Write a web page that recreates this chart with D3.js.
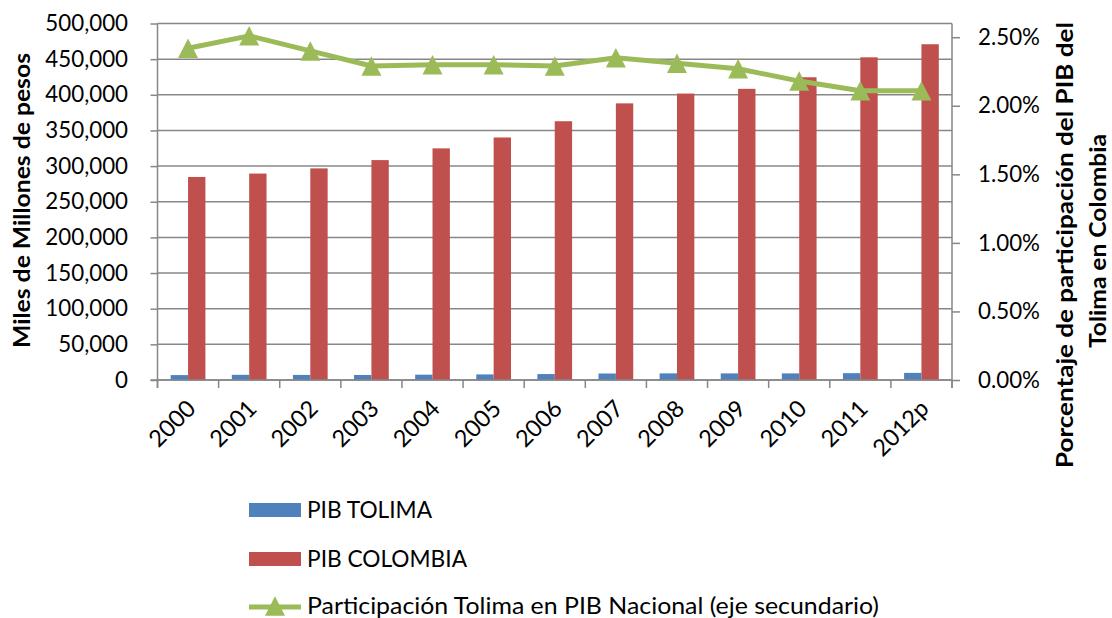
<!DOCTYPE html>
<html>
<head>
<meta charset="utf-8">
<script src="https://cdn.jsdelivr.net/npm/d3@7"></script>
<style>
  html, body { margin: 0; padding: 0; background: #fff; }
  svg { display: block; }
  text { font-family: Lato, "Open Sans", sans-serif; fill: #000; }
</style>
</head>
<body>
<div id="chart"></div>
<script>
// ---- Data ----
const categories = ["2000","2001","2002","2003","2004","2005","2006","2007","2008","2009","2010","2011","2012p"];
const pibTolima = [6890, 7280, 7140, 7050, 7470, 7820, 8310, 9130, 9300, 9260, 9270, 9570, 9960];
const pibColombia = [284761, 289539, 296789, 308418, 324866, 340156, 362938, 387983, 401744, 408379, 424599, 452578, 470903];
const participacion = [0.0242, 0.0251, 0.0240, 0.0229, 0.0230, 0.0230, 0.0229, 0.0235, 0.0231, 0.0227, 0.0218, 0.0211, 0.0211];
const leftTicks = [0, 50000, 100000, 150000, 200000, 250000, 300000, 350000, 400000, 450000, 500000];
const rightTicks = [0, 0.005, 0.01, 0.015, 0.02, 0.025];
const seriesNames = ["PIB TOLIMA", "PIB COLOMBIA", "Participación Tolima en PIB Nacional (eje secundario)"];
const leftTitle = "Miles de Millones de pesos";
const rightTitle = ["Porcentaje de participación del PIB del", "Tolima en Colombia"];

// ---- Layout ----
const W = 1112, H = 618;
const L = 157.5, R = 952, T = 23.5, B = 380;
const colors = { tolima: "#4F81BD", colombia: "#C0504D", line: "#9BBB59", grid: "#878787" };
const fs = 22.3;

const svg = d3.select("#chart").append("svg").attr("width", W).attr("height", H);
svg.append("rect").attr("width", W).attr("height", H).attr("fill", "#fff");

const x0 = d3.scaleBand().domain(categories).range([L, R]).paddingInner(0).paddingOuter(0);
const xg = d3.scaleBand().domain(categories).range([L, R]).paddingInner(0.432).paddingOuter(0.216);
const xs = d3.scaleBand().domain(["tolima", "colombia"]).range([0, xg.bandwidth()]).padding(0);
const yL = d3.scaleLinear().domain([0, 500000]).range([B, T]);
const yR = d3.scaleLinear().domain([0, 0.026]).range([B, T]);

// gridlines
svg.append("g").selectAll("line").data(leftTicks).join("line")
  .attr("x1", L).attr("x2", R).attr("y1", d => yL(d)).attr("y2", d => yL(d))
  .attr("stroke", colors.grid).attr("stroke-width", 1.5);

// bars
const rows = categories.map((c, i) => ({ c, tolima: pibTolima[i], colombia: pibColombia[i] }));
const grp = svg.append("g").selectAll("g").data(rows).join("g")
  .attr("transform", d => `translate(${xg(d.c)},0)`);
grp.selectAll("rect").data(d => [["tolima", d.tolima], ["colombia", d.colombia]]).join("rect")
  .attr("x", d => xs(d[0])).attr("width", xs.bandwidth())
  .attr("y", d => yL(d[1])).attr("height", d => B - yL(d[1]))
  .attr("fill", d => colors[d[0]]);

// plot border and axis lines
svg.append("line").attr("x1", L).attr("x2", L).attr("y1", T).attr("y2", B + 8).attr("stroke", colors.grid).attr("stroke-width", 1.5);
svg.append("line").attr("x1", R).attr("x2", R).attr("y1", T).attr("y2", B + 8).attr("stroke", colors.grid).attr("stroke-width", 1.5);

// left axis
const axL = svg.append("g").attr("transform", `translate(${L},0)`)
  .call(d3.axisLeft(yL).tickValues(leftTicks).tickSize(7).tickPadding(22.5).tickFormat(d3.format(",")));
axL.select(".domain").remove();
axL.selectAll("line").attr("stroke", colors.grid).attr("stroke-width", 1.5);
axL.selectAll("text").style("font-size", fs + "px").style("font-family", "Lato").attr("fill", "#000");

// right axis
const axR = svg.append("g").attr("transform", `translate(${R},0)`)
  .call(d3.axisRight(yR).tickValues(rightTicks).tickSize(8).tickPadding(18).tickFormat(d3.format(".2%")));
axR.select(".domain").remove();
axR.selectAll("line").attr("stroke", colors.grid).attr("stroke-width", 1.5);
axR.selectAll("text").style("font-size", fs + "px").style("font-family", "Lato").attr("fill", "#000");

// bottom axis: boundary ticks
const bounds = categories.map(c => x0(c)).concat([R]);
svg.append("g").selectAll("line").data(bounds).join("line")
  .attr("x1", d => d).attr("x2", d => d).attr("y1", B).attr("y2", B + 8)
  .attr("stroke", colors.grid).attr("stroke-width", 1.5);
svg.append("line").attr("x1", L - 7).attr("x2", R).attr("y1", B).attr("y2", B).attr("stroke", colors.grid).attr("stroke-width", 1.5);

const axB = svg.append("g").attr("transform", `translate(0,${B})`)
  .call(d3.axisBottom(x0).tickSize(0).tickPadding(0));
axB.select(".domain").remove();
axB.selectAll("text")
  .attr("x", 0).attr("y", 0).attr("dy", null)
  .attr("text-anchor", "end")
  .attr("transform", "translate(9,30) rotate(-45)")
  .style("font-size", "23.5px").style("font-family", "Lato").attr("fill", "#000");

// line series (secondary axis)
const tri = (w, h) => `M0,${-h / 2}L${w / 2},${h / 2}L${-w / 2},${h / 2}Z`;
const line = d3.line().x((d, i) => x0(categories[i]) + x0.bandwidth() / 2).y(d => yR(d));
svg.append("path").datum(participacion).attr("d", line)
  .attr("fill", "none").attr("stroke", colors.line).attr("stroke-width", 5).attr("stroke-linejoin", "round");
svg.append("g").selectAll("path").data(participacion).join("path")
  .attr("d", tri(20, 19.5))
  .attr("transform", (d, i) => `translate(${x0(categories[i]) + x0.bandwidth() / 2},${yR(d)})`)
  .attr("fill", colors.line);

// axis titles
svg.append("text").attr("transform", "translate(30,200.5) rotate(-90)")
  .attr("text-anchor", "middle").style("font-size", "23.5px").style("font-weight", "bold")
  .attr("textLength", 295).attr("lengthAdjust", "spacingAndGlyphs").text(leftTitle);
const rt = svg.append("g");
rt.append("text").attr("transform", "translate(1073,245) rotate(-90)")
  .attr("text-anchor", "middle").style("font-size", "23.5px").style("font-weight", "bold")
  .attr("textLength", 446).attr("lengthAdjust", "spacingAndGlyphs").text(rightTitle[0]);
rt.append("text").attr("transform", "translate(1106,241) rotate(-90)")
  .attr("text-anchor", "middle").style("font-size", "23.5px").style("font-weight", "bold")
  .attr("textLength", 214).attr("lengthAdjust", "spacingAndGlyphs").text(rightTitle[1]);

// legend
const lg = svg.append("g");
const lx = 249, lw = 52, tx = 307;
const baselines = [518, 566.5, 613.5];
const legendLengths = [125, 160, 572];
lg.append("rect").attr("x", lx).attr("y", 503).attr("width", lw).attr("height", 14).attr("fill", colors.tolima);
lg.append("rect").attr("x", lx).attr("y", 552).attr("width", lw).attr("height", 14).attr("fill", colors.colombia);
lg.append("line").attr("x1", lx).attr("x2", lx + lw).attr("y1", 607).attr("y2", 607)
  .attr("stroke", colors.line).attr("stroke-width", 5);
lg.append("path").attr("d", tri(20, 19.5)).attr("transform", `translate(${lx + lw / 2},606)`).attr("fill", colors.line);
lg.selectAll("text").data(seriesNames).join("text")
  .attr("x", tx).attr("y", (d, i) => baselines[i])
  .attr("textLength", (d, i) => legendLengths[i]).attr("lengthAdjust", "spacingAndGlyphs")
  .style("font-size", fs + "px").text(d => d);
</script>
</body>
</html>
